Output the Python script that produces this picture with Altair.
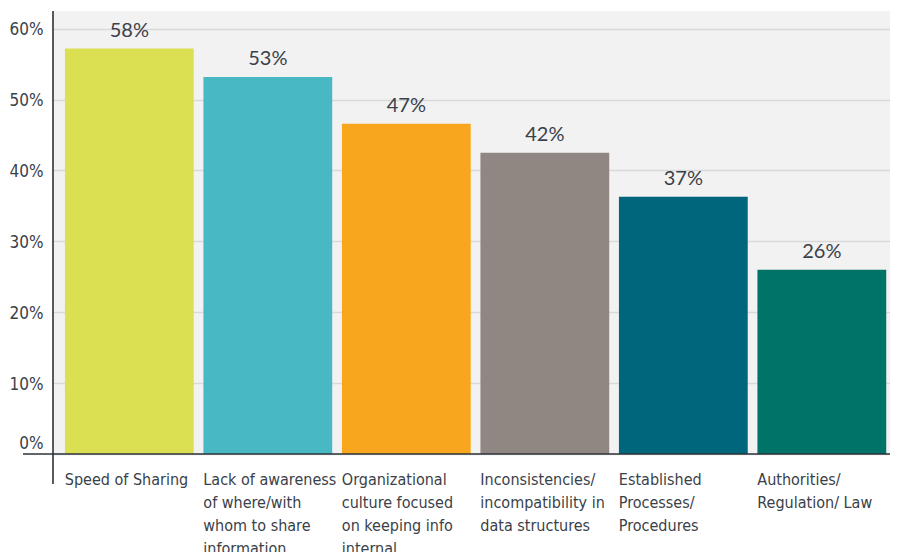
import altair as alt
import pandas as pd

categories = [
    "Speed of Sharing",
    "Lack of awareness|of where/with|whom to share|information",
    "Organizational|culture focused|on keeping info|internal",
    "Inconsistencies/|incompatibility in|data structures",
    "Established|Processes/|Procedures",
    "Authorities/|Regulation/ Law",
]
values = [57.2, 53.2, 46.6, 42.5, 36.3, 26.0]
value_labels = ["58%", "53%", "47%", "42%", "37%", "26%"]
colors = ["#dbe052", "#48b8c5", "#f8a61d", "#918782", "#00667c", "#007369"]

df = pd.DataFrame({"cat": categories, "val": values, "lab": value_labels})

W, H = 837, 443
TEXT = "#3a4149"
LABEL_FONT = "DejaVu Sans Condensed, sans-serif"

x = alt.X(
    "cat:N",
    sort=categories,
    scale=alt.Scale(paddingInner=0.07, paddingOuter=0.0566, align=0.76),
    axis=alt.Axis(
        title=None,
        labelExpr="split(datum.label, '|')",
        labelAngle=0,
        labelAlign="left",
        labelBaseline="top",
        labelOffset=-64.5,
        labelPadding=17,
        labelFontSize=16,
        labelLineHeight=23,
        labelFont=LABEL_FONT,
        labelColor=TEXT,
        ticks=False,
        domain=False,
        grid=False,
        labelLimit=200,
    ),
)
y = alt.Y(
    "val:Q",
    scale=alt.Scale(domain=[0, 62.5], nice=False, zero=True),
    axis=alt.Axis(
        title=None,
        values=[0, 10, 20, 30, 40, 50, 60],
        labelExpr="datum.value + '%'",
        labelFontSize=17,
        labelFont=LABEL_FONT,
        labelColor=TEXT,
        labelPadding=10,
        labelOffset={"condition": {"test": "datum.value == 0", "value": -11}, "value": 1},
        ticks=False,
        domain=False,
        grid=True,
        gridColor="#d9d9d9",
        gridWidth=1.5,
    ),
)

bars = alt.Chart(df).mark_bar().encode(
    x=x,
    y=y,
    color=alt.Color("cat:N", sort=categories,
                    scale=alt.Scale(domain=categories, range=colors), legend=None),
)

texts = alt.Chart(df).mark_text(
    baseline="bottom", dy=-8, fontSize=20, font="Lato, Open Sans, sans-serif", color=TEXT
).encode(x=alt.X("cat:N", sort=categories), y="val:Q", text="lab:N")

one = alt.Data(values=[{"a": 1}])
xline = alt.Chart(one).mark_rule(color="#2d333a", strokeWidth=1.6).encode(
    x=alt.value(-30), x2=alt.value(W), y=alt.value(H)
)
yline = alt.Chart(one).mark_rule(color="#2d333a", strokeWidth=1.6).encode(
    x=alt.value(0), y=alt.value(0), y2=alt.value(H + 30)
)

chart = alt.layer(bars, texts, xline, yline).properties(
    width=W,
    height=H,
    autosize=alt.AutoSizeParams(type="none"),
    padding={"left": 45, "top": 3, "right": 0, "bottom": 98},
).configure_view(fill="#f2f2f2", stroke=None)

chart.save("out.html", embed_options={"renderer": "svg", "actions": False})
